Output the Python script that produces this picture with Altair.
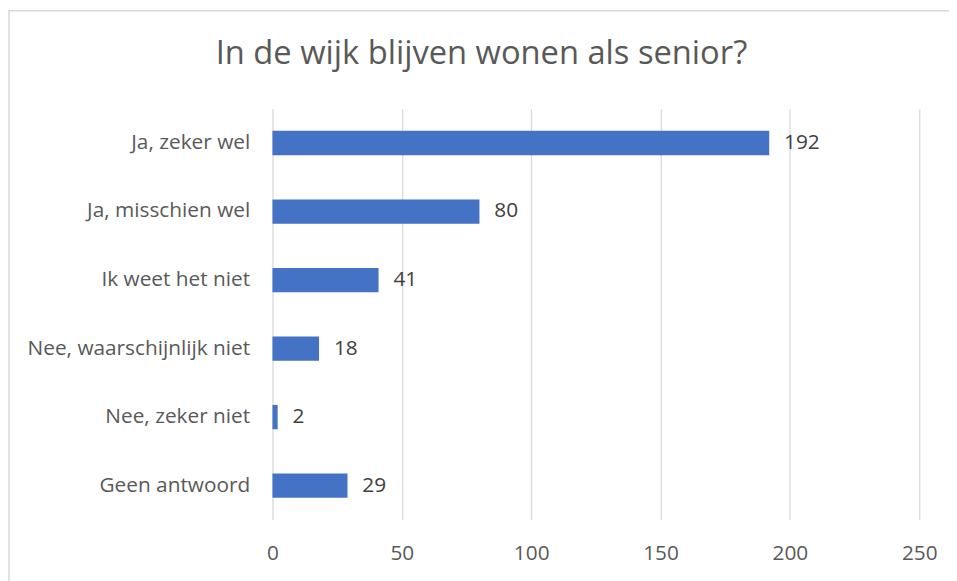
import altair as alt
import pandas as pd

categories = [
    "Ja, zeker wel",
    "Ja, misschien wel",
    "Ik weet het niet",
    "Nee, waarschijnlijk niet",
    "Nee, zeker niet",
    "Geen antwoord",
]
values = [192, 80, 41, 18, 2, 29]
x_ticks = [0, 50, 100, 150, 200, 250]
title_text = "In de wijk blijven wonen als senior?"

df = pd.DataFrame({"cat": categories, "val": values})

FONT = "Open Sans"
GRAY = "#595959"

y_enc = alt.Y(
    "cat:N",
    sort=categories,
    title=None,
    scale=alt.Scale(paddingInner=0.645, paddingOuter=0.3225),
    axis=alt.Axis(
        domain=False, ticks=False, grid=False, labelFont=FONT, labelFontSize=21,
        labelColor=GRAY, labelPadding=23, labelLimit=400,
    ),
)
x_enc = alt.X(
    "val:Q",
    title=None,
    scale=alt.Scale(domain=[0, 250], nice=False),
    axis=alt.Axis(
        values=x_ticks, domain=False, ticks=False, grid=True, gridColor="#d9d9d9",
        gridWidth=1.3, labelFont=FONT, labelFontSize=21, labelColor=GRAY,
        labelPadding=23, labelFlush=False,
    ),
)

bars = alt.Chart(df).mark_bar(color="#4472C4").encode(x=x_enc, y=y_enc)
labels = alt.Chart(df).mark_text(
    align="left", baseline="middle", dx=15, font=FONT, fontSize=21, color="#404040"
).encode(x="val:Q", y=alt.Y("cat:N", sort=categories), text="val:Q")

one_row = alt.Data(values=[{"t": title_text}])

frame = alt.Chart(one_row).mark_rect(
    fill="transparent", stroke="#d9d9d9", strokeWidth=1.5
).encode(
    x=alt.value(-266), x2=alt.value(720), y=alt.value(-99), y2=alt.value(600)
)

title = alt.Chart(one_row).mark_text(
    align="center", baseline="middle", font=FONT, fontSize=33, color=GRAY
).encode(x=alt.value(211), y=alt.value(-55), text="t:N")

chart = alt.layer(frame, title, bars, labels).properties(
    width=653,
    height=415,
    autosize=alt.AutoSizeParams(type="none"),
    padding={"left": 267, "top": 99, "right": 30, "bottom": 59},
).configure_view(stroke=None)

chart.save("out.html", embed_options={"renderer": "svg", "actions": False})
